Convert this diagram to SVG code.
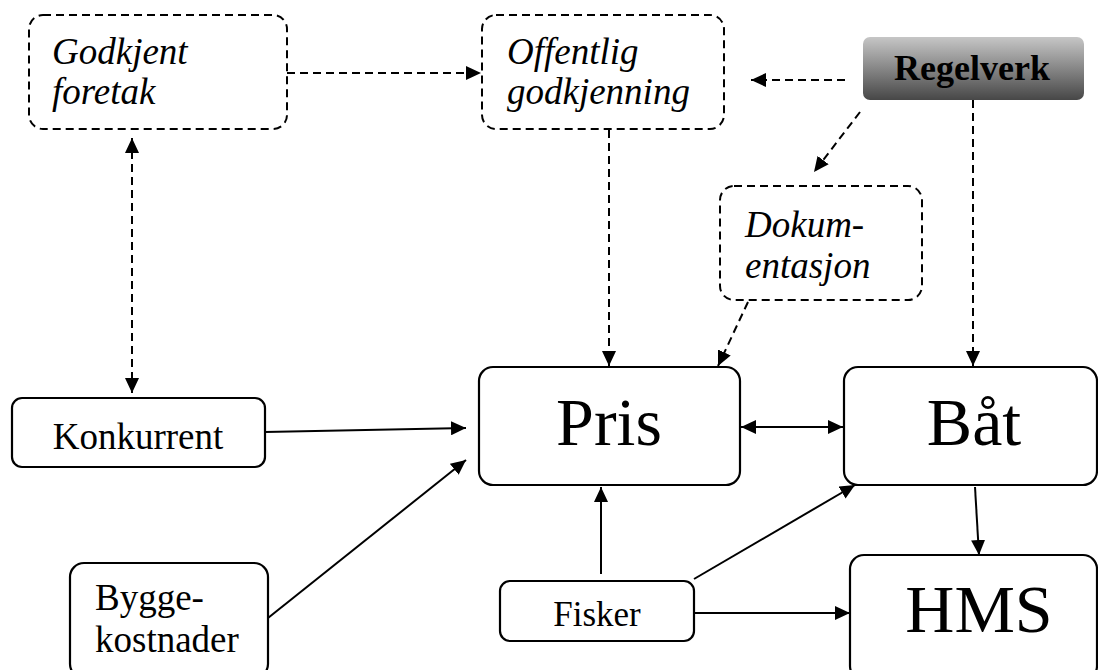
<svg xmlns="http://www.w3.org/2000/svg" width="1098" height="670" viewBox="0 0 1098 670">
<style>
.box{fill:#fff;stroke:#000;stroke-width:2.2}
.dbox{fill:#fff;stroke:#000;stroke-width:2;stroke-dasharray:8 5}
.it{font-family:"Liberation Serif","Times New Roman",serif;font-style:italic;font-size:37px;fill:#000}
.rm{font-family:"Liberation Serif","Times New Roman",serif;fill:#000}
.c{stroke:#000;stroke-width:2;fill:none}
.d{stroke:#000;stroke-width:2;fill:none;stroke-dasharray:8 5}
</style>
<defs>
<marker id="ah" viewBox="0 0 10 10" refX="10" refY="5" markerWidth="15" markerHeight="14" markerUnits="userSpaceOnUse" orient="auto-start-reverse" preserveAspectRatio="none">
<path d="M0,0 L10,5 L0,10 z" fill="#000"/>
</marker>
<linearGradient id="gr" x1="0" y1="0" x2="0" y2="1">
<stop offset="0" stop-color="#c6c6c6"/>
<stop offset="1" stop-color="#474747"/>
</linearGradient>
</defs>
<g id="connectors">
<path class="d" d="M287,73 L481,73" marker-end="url(#ah)"/>
<path class="d" d="M845,80 L751,80" marker-end="url(#ah)"/>
<path class="d" d="M860,112 L814,172" marker-end="url(#ah)"/>
<path class="d" d="M609,130 L609,366" marker-end="url(#ah)"/>
<path class="d" d="M748,302 L718,366" marker-end="url(#ah)"/>
<path class="d" d="M973,100 L973,366" marker-end="url(#ah)"/>
<path class="d" d="M132,138 L132,393" marker-start="url(#ah)" marker-end="url(#ah)"/>
<path class="c" d="M265,432 L466,428" marker-end="url(#ah)"/>
<path class="c" d="M268,618 L466,460" marker-end="url(#ah)"/>
<path class="c" d="M741,427 L843,427" marker-start="url(#ah)" marker-end="url(#ah)"/>
<path class="c" d="M601,574 L601,487" marker-end="url(#ah)"/>
<path class="c" d="M694,579 L855,485" marker-end="url(#ah)"/>
<path class="c" d="M694,613 L850,613" marker-end="url(#ah)"/>
<path class="c" d="M975,487 L979,555" marker-end="url(#ah)"/>
</g>
<g id="godkjent">
<rect class="dbox" x="29" y="15" width="258" height="114" rx="14"/>
<text class="it" x="52" y="64">Godkjent</text>
<text class="it" x="52" y="104">foretak</text>
</g>
<g id="offentlig">
<rect class="dbox" x="482" y="15" width="242" height="114" rx="14"/>
<text class="it" x="507" y="64">Offentlig</text>
<text class="it" x="507" y="104">godkjenning</text>
</g>
<g id="regelverk">
<rect x="863" y="37" width="221" height="63" rx="7" fill="url(#gr)"/>
<text class="rm" x="972" y="80" text-anchor="middle" font-size="36" font-weight="bold">Regelverk</text>
</g>
<g id="dokumentasjon">
<rect class="dbox" x="720" y="186" width="202" height="114" rx="14"/>
<text class="it" x="745" y="237">Dokum-</text>
<text class="it" x="745" y="278">entasjon</text>
</g>
<g id="konkurrent">
<rect class="box" x="12" y="398" width="253" height="69" rx="10"/>
<text class="rm" x="138" y="449" text-anchor="middle" font-size="37">Konkurrent</text>
</g>
<g id="pris">
<rect class="box" x="479" y="367" width="261" height="118" rx="14"/>
<text class="rm" x="609" y="445" text-anchor="middle" font-size="68">Pris</text>
</g>
<g id="bat">
<rect class="box" x="844" y="367" width="253" height="118" rx="14"/>
<text class="rm" x="974" y="445" text-anchor="middle" font-size="68">Båt</text>
</g>
<g id="hms">
<rect class="box" x="850" y="555" width="247" height="125" rx="14"/>
<text class="rm" x="979" y="632" text-anchor="middle" font-size="68">HMS</text>
</g>
<g id="fisker">
<rect class="box" x="500" y="581" width="194" height="60" rx="10"/>
<text class="rm" x="597" y="626" text-anchor="middle" font-size="35">Fisker</text>
</g>
<g id="byggekostnader">
<rect class="box" x="70" y="563" width="198" height="115" rx="14"/>
<text class="rm" x="95" y="610" font-size="37">Bygge-</text>
<text class="rm" x="95" y="652" font-size="37">kostnader</text>
</g>
</svg>
